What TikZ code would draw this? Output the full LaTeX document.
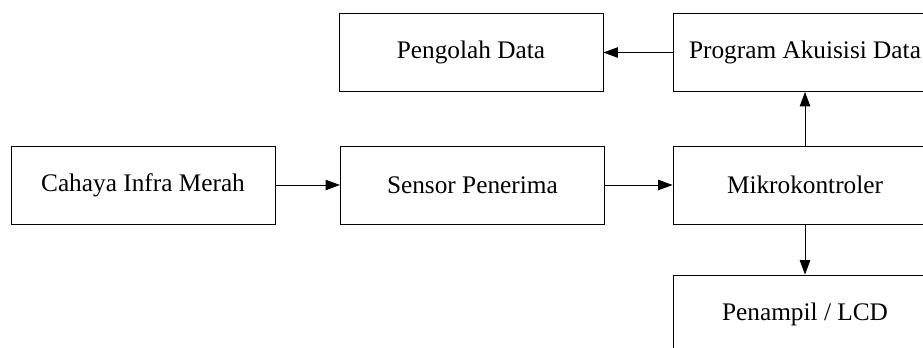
\documentclass[tikz,border=0pt]{standalone}
\usepackage{fontspec}
\setmainfont{Liberation Serif}
\usetikzlibrary{arrows.meta}

\tikzset{
  blok/.style={draw, line width=0.6pt, minimum width=6.6cm, minimum height=1.95cm,
    inner sep=0pt, font=\fontsize{18}{21}\selectfont},
  panah/.style={line width=0.6pt, -{Triangle[length=0.36cm, width=0.26cm]}}
}

\begin{document}
\begin{tikzpicture}
  \useasboundingbox (0,0) rectangle (23.075,8.675);
  \clip (0,0) rectangle (23.075,8.675);

  % Blok diagram
  \node[blok] (cahaya) at (3.575, 4.05) {Cahaya Infra Merah};
  \node[blok] (sensor) at (11.81, 4.05) {Sensor Penerima};
  \node[blok] (mikro) at (20.125, 4.05) {Mikrokontroler};
  \node[blok] (pengolah) at (11.775, 7.3625) {Pengolah Data};
  \node[blok] (akuisisi) at (20.125, 7.3625) {Program Akuisisi Data};
  \node[blok] (lcd) at (20.125, 0.825) {Penampil / LCD};

  % Aliran data
  \draw[panah] (cahaya) -- (sensor);
  \draw[panah] (sensor) -- (mikro);
  \draw[panah] (mikro) -- (akuisisi);
  \draw[panah] (akuisisi) -- (pengolah);
  \draw[panah] (mikro) -- (lcd);
\end{tikzpicture}
\end{document}
